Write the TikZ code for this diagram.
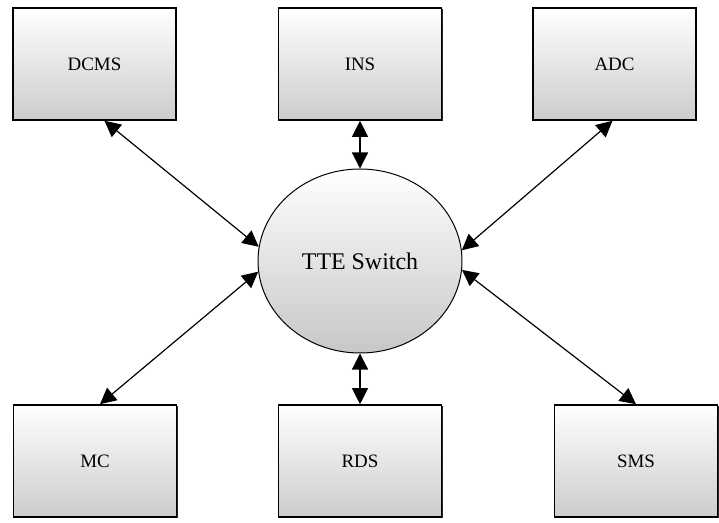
\documentclass[tikz,border=0pt]{standalone}
\usepackage{fontspec}
\setmainfont{Liberation Serif}
\usepackage{tikz}
\usetikzlibrary{shapes.geometric,arrows.meta,shadows}
\tikzset{
  sqsys/.style={ draw, line width=1.6pt, top color=white, bottom color=black!20,
    minimum width=163bp, minimum height=112bp, inner sep=0pt,
    drop shadow={shadow xshift=1.1pt, shadow yshift=-1.1pt, opacity=1, fill=black!85},
    font=\fontsize{19}{22}\selectfont }
}
\tikzset{
  ellsw/.style={ draw, ellipse, line width=1pt, top color=white, bottom color=black!22,
    minimum width=204bp, minimum height=184bp, inner sep=0pt,
    font=\fontsize{24}{28}\selectfont }
}
\tikzset{
  lnk/.style={ {Triangle[length=16bp,width=16bp]}-{Triangle[length=16bp,width=16bp]}, line width=1.2pt }
}
\begin{document}
\begin{tikzpicture}[x=1bp, y=-1bp]
      \useasboundingbox (0,0) rectangle (719,523);
      \node[ellsw] (sw) at (360, 261) {TTE Switch};

      \node[sqsys] (dcms) at (94.5, 64) {DCMS};
      \node[sqsys] (ins) at (360, 64) {INS};
      \node[sqsys] (adc) at (614.5, 64) {ADC};

      \node[sqsys] (mc) at (95, 461) {MC};
      \node[sqsys] (rds) at (360, 461) {RDS};
      \node[sqsys] (sms) at (636, 461) {SMS};

      % links to the switch
      \draw[lnk] ([xshift=10bp]dcms.south) -- (sw.172);
      \draw[lnk] (ins.south) -- (sw.north);
      \draw[lnk] ([xshift=-2bp]adc.south) -- (sw.6);
      \draw[lnk] ([xshift=5bp]mc.north) -- (sw.186);
      \draw[lnk] (rds.north) -- (sw.south);
      \draw[lnk] (sms.north) -- (sw.355);
    \end{tikzpicture}
\end{document}
